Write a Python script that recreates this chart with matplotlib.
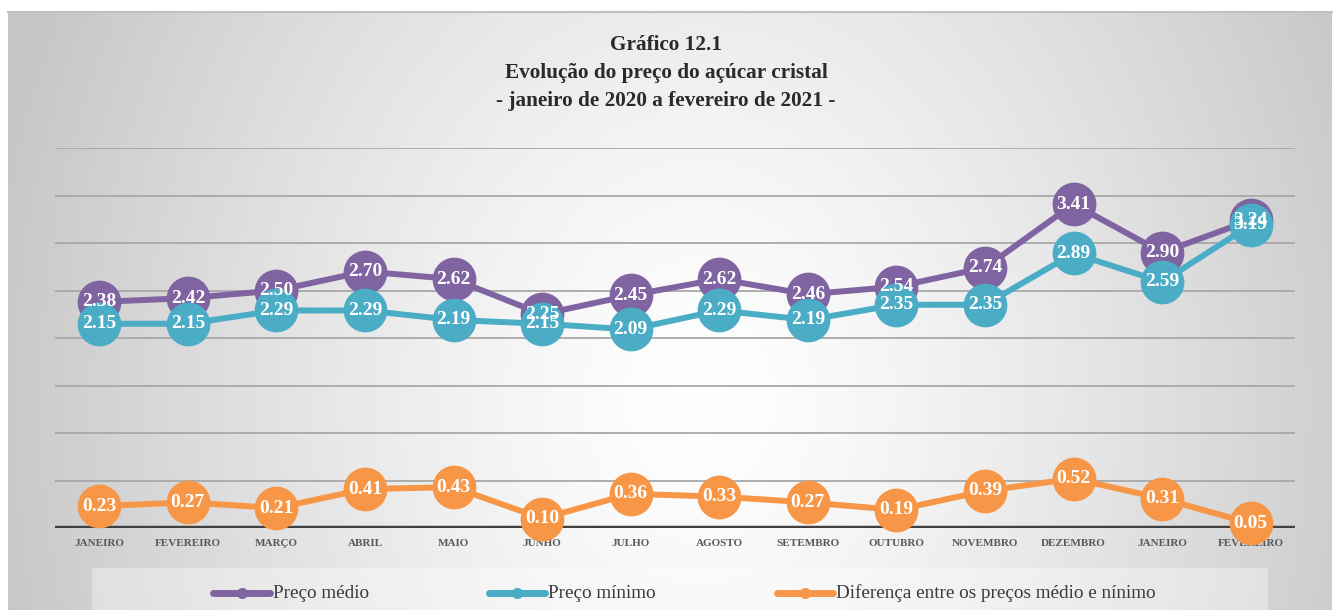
import numpy as np
import matplotlib
matplotlib.use("Agg")
import matplotlib.pyplot as plt
from matplotlib.lines import Line2D
from matplotlib.patches import Rectangle

meses = ["JANEIRO", "FEVEREIRO", "MARÇO", "ABRIL", "MAIO", "JUNHO", "JULHO",
         "AGOSTO", "SETEMBRO", "OUTUBRO", "NOVEMBRO", "DEZEMBRO", "JANEIRO", "FEVEREIRO"]
preco_medio = [2.38, 2.42, 2.50, 2.70, 2.62, 2.25, 2.45, 2.62, 2.46, 2.54, 2.74, 3.41, 2.90, 3.24]
preco_minimo = [2.15, 2.15, 2.29, 2.29, 2.19, 2.15, 2.09, 2.29, 2.19, 2.35, 2.35, 2.89, 2.59, 3.19]
diferenca = [0.23, 0.27, 0.21, 0.41, 0.43, 0.10, 0.36, 0.33, 0.27, 0.19, 0.39, 0.52, 0.31, 0.05]
series_names = ["Preço médio", "Preço mínimo", "Diferença entre os preços médio e nínimo"]
colors = ["#8064A2", "#4BACC6", "#F79646"]

W, H = 1335, 610
fig = plt.figure(figsize=(W / 100, H / 100), dpi=100)
fig.patch.set_facecolor("white")

SERIF = ["Liberation Serif", "DejaVu Serif"]

# background gradient
bg = fig.add_axes([0, 0, 1, 1], zorder=0)
bg.set_xlim(0, W)
bg.set_ylim(H, 0)
bg.axis("off")
x0, x1, y0, y1 = 8, 1332, 11, 610
xx, yy = np.meshgrid(np.linspace(x0, x1, 400), np.linspace(y0, y1, 200))
cx, cy, rx, ry = 700, 400, 720, 900
d = np.sqrt(((xx - cx) / rx) ** 2 + ((yy - cy) / ry) ** 2)
d = np.clip(d, 0, 1)
val = 1.0 - 0.22 * d ** 1.3
img = np.dstack([val, val, val])
bg.imshow(img, extent=(x0, x1, y1, y0), aspect="auto", interpolation="bicubic")
bg.plot([x0, x1], [y0 + 0.5, y0 + 0.5], color="#c0c0c0", lw=1.5)

# legend box
bg.add_patch(Rectangle((92, 568), 1176, 50, facecolor="white", alpha=0.35, edgecolor="none"))

# main axes
ax = fig.add_axes([55 / W, 82 / H, 1240 / W, 380 / H], zorder=1)
ax.patch.set_alpha(0)
x = np.arange(len(meses))
ax.set_xlim(-0.5, len(meses) - 0.5)
ax.set_ylim(0, 4)
for s in ax.spines.values():
    s.set_visible(False)
ax.set_yticks(np.arange(0.5, 4.01, 0.5))
ax.yaxis.grid(True, color="#a8a8a8", lw=1.3)
ax.set_axisbelow(True)
ax.tick_params(axis="y", left=False, labelleft=False)
ax.axhline(0, color="#404040", lw=3.2, zorder=1.5)
ax.set_xticks(x)
ax.set_xticklabels(meses, fontsize=8, fontweight="bold", color="#595959", family=SERIF)
ax.tick_params(axis="x", length=0, pad=8)

all_series = [preco_medio, preco_minimo, diferenca]
for i, (vals, c) in enumerate(zip(all_series, colors)):
    ax.plot(x, vals, color=c, lw=4.3, marker="o", markersize=31.5,
            markeredgewidth=0, zorder=2 + i, clip_on=False)
for vals in all_series:
    for xi, v in zip(x, vals):
        ax.text(xi, v, f"{v:.2f}", ha="center", va="center", color="white",
                fontsize=14, fontweight="bold", family=SERIF, zorder=10, clip_on=False)

# title
title_lines = ["Gráfico 12.1", "Evolução do preço do açúcar cristal",
               "- janeiro de 2020 a fevereiro de 2021 -"]
for k, t in enumerate(title_lines):
    fig.text(666 / W, 1 - (45 + 28 * k) / H, t, ha="center", va="center",
             fontsize=15.3, fontweight="bold", color="#2a2a2a", family=SERIF)

# legend
leg_pos = [(213, 270, 273), (489, 545, 548), (777, 833, 836)]
for (lx0, lx1, tx), c, name in zip(leg_pos, colors, series_names):
    bg.add_line(Line2D([lx0, lx1], [593, 593], color=c, lw=5, solid_capstyle="round"))
    bg.add_line(Line2D([(lx0 + lx1) / 2], [593], color=c, marker="o", markersize=8,
                       markeredgewidth=0))
    bg.text(tx, 593, name, ha="left", va="center", fontsize=13.8, color="#3a3a3a",
            family=SERIF)

fig.savefig("out.png", dpi=100)
